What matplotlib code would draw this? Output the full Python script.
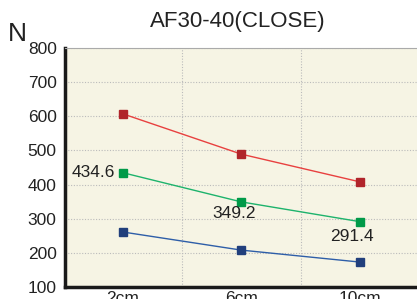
import matplotlib.pyplot as plt

plt.rcParams['font.family'] = ['Liberation Sans', 'DejaVu Sans']

categories = ['2cm', '6cm', '10cm']
red_vals = [607, 489, 408]
green_vals = [434.6, 349.2, 291.4]
blue_vals = [261, 208, 173]
green_labels = ['434.6', '349.2', '291.4']

fig = plt.figure(figsize=(4.17, 2.99), dpi=100)
ax = fig.add_axes([65 / 417, 12 / 299, 354 / 417, 239 / 299])
ax.set_facecolor('#F6F4E4')

x = range(len(categories))
ax.plot(x, red_vals, color='#E8403F', lw=1, marker='s', ms=6,
        mfc='#B0242A', mec='#B0242A')
ax.plot(x, green_vals, color='#1DB36C', lw=1, marker='s', ms=6,
        mfc='#009A48', mec='#009A48')
ax.plot(x, blue_vals, color='#2E5EA8', lw=1, marker='s', ms=6,
        mfc='#213F7C', mec='#213F7C')

# labels for the green series
ax.annotate(green_labels[0], (0, green_vals[0]), xytext=(-6, 0),
            textcoords='offset points', ha='right', va='center',
            fontsize=12.5, color='#222222')
ax.annotate(green_labels[1], (1, green_vals[1]), xytext=(-5, -8),
            textcoords='offset points', ha='center', va='center',
            fontsize=12.5, color='#222222')
ax.annotate(green_labels[2], (2, green_vals[2]), xytext=(-6, -10.5),
            textcoords='offset points', ha='center', va='center',
            fontsize=12.5, color='#222222')

ax.set_xlim(-0.49, 2.5)
ax.set_ylim(100, 800)
ax.set_yticks(range(100, 801, 100))
ax.set_xticks(list(x))
ax.set_xticklabels(categories)
ax.set_xticks([0.5, 1.5], minor=True)

ax.grid(True, which='minor', axis='x', color='#BBBBBB', ls=(0, (1, 1.5)), lw=0.8)
ax.grid(True, which='major', axis='y', color='#BBBBBB', ls=(0, (1, 1.5)), lw=0.8)
ax.tick_params(which='both', length=0)
ax.tick_params(axis='y', labelsize=12.5, pad=6, colors='#222222')
ax.tick_params(axis='x', labelsize=12.5, pad=3, colors='#222222')

ax.spines['left'].set_linewidth(2.5)
ax.spines['bottom'].set_linewidth(2.5)
ax.spines['left'].set_color('#1A1A1A')
ax.spines['bottom'].set_color('#1A1A1A')
ax.spines['top'].set_color('#AAAAAA')
ax.spines['top'].set_linewidth(0.8)
ax.spines['right'].set_visible(False)

fig.text(238 / 417, 1 - 22 / 299, 'AF30-40(CLOSE)', ha='center', va='center',
         fontsize=16, color='#222222')
fig.text(17.5 / 417, 1 - 34 / 299, 'N', ha='center', va='center',
         fontsize=19, color='#222222')

fig.savefig('out.png', dpi=100)
